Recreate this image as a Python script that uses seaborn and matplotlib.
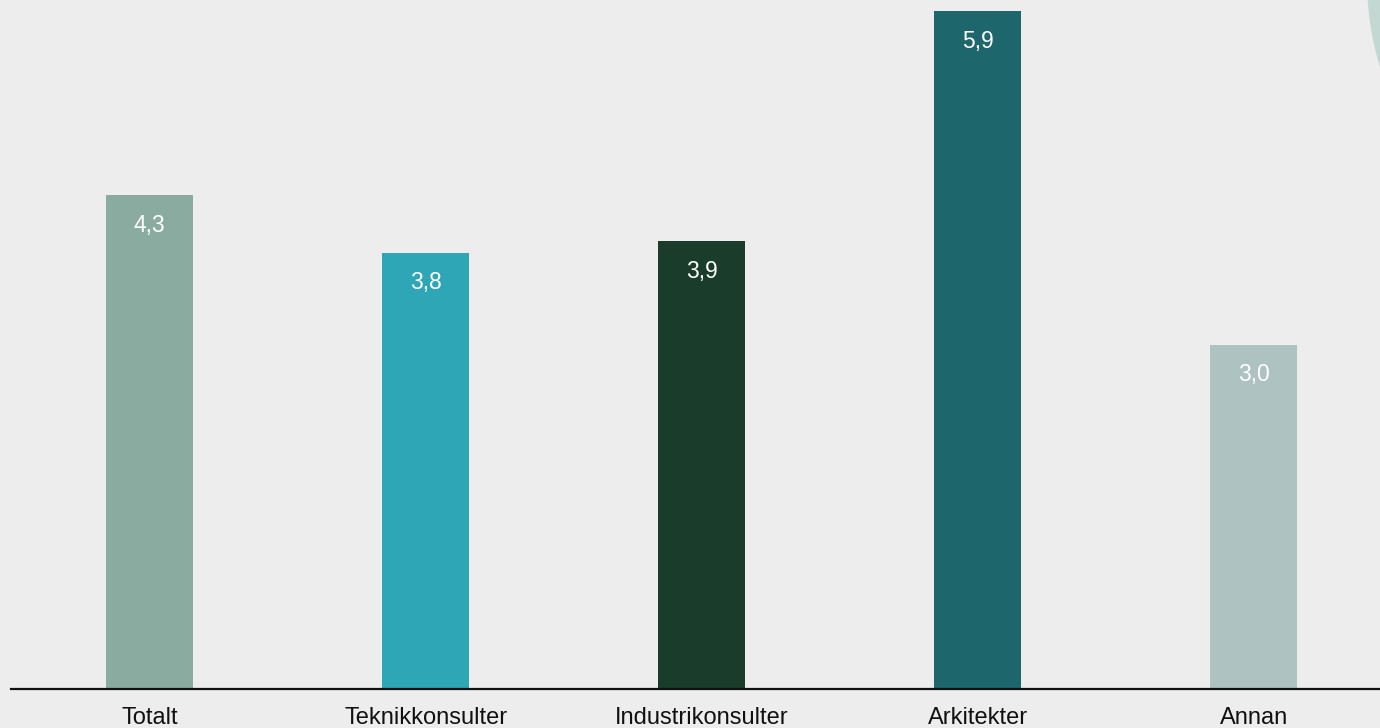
import matplotlib
matplotlib.use("Agg")
import matplotlib.pyplot as plt
import seaborn as sns
import pandas as pd
from matplotlib.patches import Ellipse

categories = ["Totalt", "Teknikkonsulter", "Industrikonsulter", "Arkitekter", "Annan"]
values = [4.3, 3.8, 3.9, 5.9, 3.0]
labels = ["4,3", "3,8", "3,9", "5,9", "3,0"]
colors = ["#8aaca0", "#2fa6b5", "#1a3c2b", "#1d666c", "#aec2c2"]

bg = "#ededed"
sns.set_theme(style="white", rc={"axes.facecolor": bg, "figure.facecolor": bg})
plt.rcParams["font.family"] = ["Liberation Sans", "DejaVu Sans"]

df = pd.DataFrame({"kategori": categories, "varde": values})

fig = plt.figure(figsize=(13.8, 7.28), dpi=100)
# decorative arc in the top right corner
fig.patches.append(Ellipse((1667 / 1380, 1 + 20 / 728), 600 / 1380, 600 / 728,
                           transform=fig.transFigure, facecolor="#c3d7d3",
                           edgecolor="none", zorder=0))
ax = fig.add_axes([11 / 1380, 39 / 728, 1369 / 1380, 689 / 728])
ax.patch.set_alpha(0)

sns.barplot(data=df, x="kategori", y="varde", hue="kategori", palette=colors,
            width=0.315, legend=False, ax=ax, saturation=1, linewidth=0)

for i, (v, lab) in enumerate(zip(values, labels)):
    ax.annotate(lab, (i, v), xytext=(0, -30), textcoords="offset pixels",
                ha="center", va="center", color="white", fontsize=16.5)

ax.set_xlim(-0.502, 4.458)
ax.set_ylim(0, 6.0)
ax.set_xlabel("")
ax.set_ylabel("")
ax.set_yticks([])
sns.despine(ax=ax, left=True, top=True, right=True)
ax.spines["bottom"].set_color("#111111")
ax.spines["bottom"].set_linewidth(1.6)
ax.tick_params(axis="x", length=0, pad=13, labelsize=17, colors="#111111")

fig.savefig("out.png", dpi=100, facecolor=bg)
